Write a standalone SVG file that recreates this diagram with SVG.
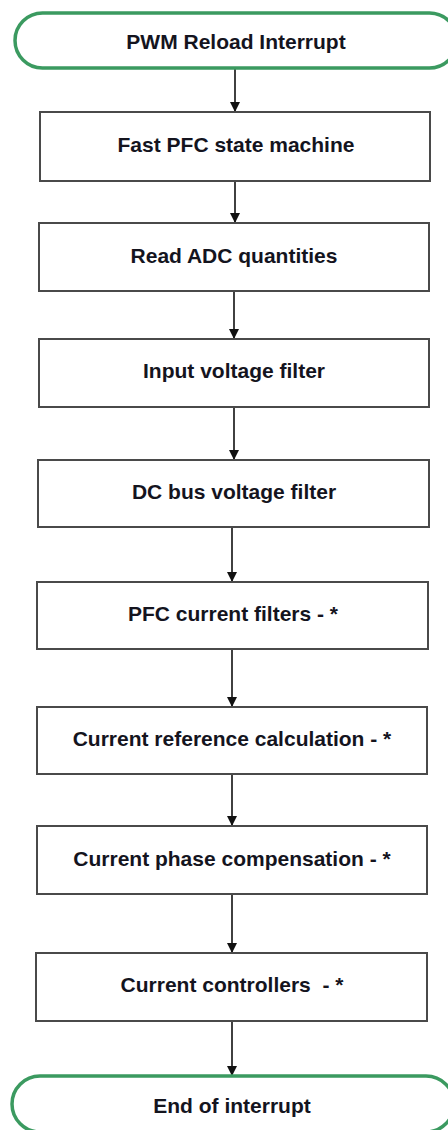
<svg xmlns="http://www.w3.org/2000/svg" width="448" height="1130" viewBox="0 0 448 1130">
<style>
.box{fill:#fff;stroke:#4a4a4a;stroke-width:2}
.term{fill:#fff;stroke:#3b9a60;stroke-width:3.5}
.lbl{font-family:"Liberation Sans",Arial,sans-serif;font-weight:bold;font-size:21px;fill:#14141e;text-anchor:middle;dominant-baseline:central}
.con{stroke:#111;stroke-width:1.6;fill:none}
</style>
<defs>
<marker id="ah" markerWidth="10" markerHeight="10" refX="10" refY="5" orient="auto" markerUnits="userSpaceOnUse">
<path d="M0,0 L10,5 L0,10 Z" fill="#111"/>
</marker>
</defs>
<rect width="448" height="1130" fill="#fff"/>
<g id="connectors">
<line class="con" x1="235" y1="69" x2="235" y2="112" marker-end="url(#ah)"/>
<line class="con" x1="235" y1="181" x2="235" y2="223" marker-end="url(#ah)"/>
<line class="con" x1="234" y1="291" x2="234" y2="339" marker-end="url(#ah)"/>
<line class="con" x1="234" y1="407" x2="234" y2="460" marker-end="url(#ah)"/>
<line class="con" x1="232" y1="527" x2="232" y2="582" marker-end="url(#ah)"/>
<line class="con" x1="232" y1="649" x2="232" y2="707" marker-end="url(#ah)"/>
<line class="con" x1="232" y1="774" x2="232" y2="826" marker-end="url(#ah)"/>
<line class="con" x1="232" y1="894" x2="232" y2="953" marker-end="url(#ah)"/>
<line class="con" x1="232" y1="1021" x2="232" y2="1076" marker-end="url(#ah)"/>
</g>
<g id="start">
<rect class="term" x="15" y="13" width="442" height="55" rx="27.5"/>
<text class="lbl" x="236" y="41">PWM Reload Interrupt</text>
</g>
<g id="n1">
<rect class="box" x="40" y="112" width="390" height="69"/>
<text class="lbl" x="236" y="144">Fast PFC state machine</text>
</g>
<g id="n2">
<rect class="box" x="39" y="223" width="390" height="68"/>
<text class="lbl" x="234" y="255">Read ADC quantities</text>
</g>
<g id="n3">
<rect class="box" x="39" y="339" width="390" height="68"/>
<text class="lbl" x="234" y="370">Input voltage filter</text>
</g>
<g id="n4">
<rect class="box" x="38" y="460" width="391" height="67"/>
<text class="lbl" x="234" y="491">DC bus voltage filter</text>
</g>
<g id="n5">
<rect class="box" x="37" y="582" width="391" height="67"/>
<text class="lbl" x="233" y="613">PFC current filters - *</text>
</g>
<g id="n6">
<rect class="box" x="37" y="707" width="390" height="67"/>
<text class="lbl" x="232" y="738">Current reference calculation - *</text>
</g>
<g id="n7">
<rect class="box" x="37" y="826" width="390" height="68"/>
<text class="lbl" x="232" y="858">Current phase compensation - *</text>
</g>
<g id="n8">
<rect class="box" x="36" y="953" width="391" height="68"/>
<text class="lbl" x="232" y="984" xml:space="preserve">Current controllers  - *</text>
</g>
<g id="end">
<rect class="term" x="12" y="1076" width="442" height="56" rx="28"/>
<text class="lbl" x="232" y="1105">End of interrupt</text>
</g>
</svg>
